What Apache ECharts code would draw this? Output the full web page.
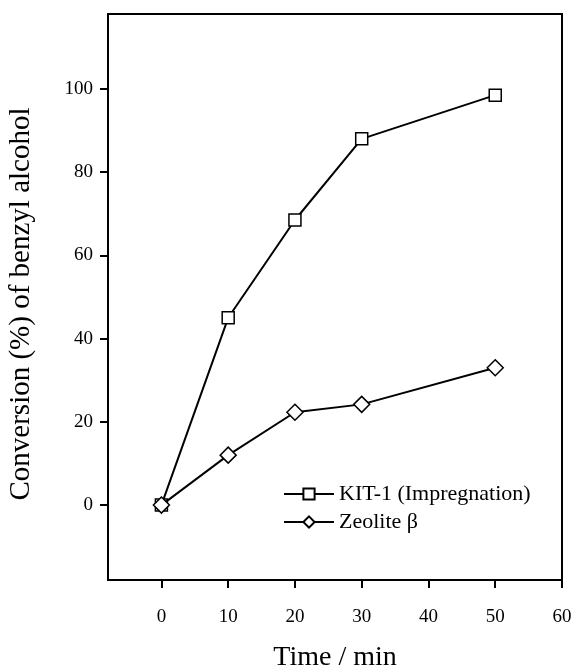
<!DOCTYPE html>
<html>
<head>
<meta charset="utf-8">
<script src="https://cdn.jsdelivr.net/npm/echarts@6/dist/echarts.min.js"></script>
<style>
  html, body { margin: 0; padding: 0; background: #fff; }
  #chart { width: 576px; height: 671px; }
</style>
</head>
<body>
<div id="chart"></div>
<script>
// data
var timeMin = [0, 10, 20, 30, 50];
var kit1 = [0, 45, 68.5, 88, 98.5];
var zeolite = [0, 12, 22.3, 24.2, 33];
var xTicks = [0, 10, 20, 30, 40, 50, 60];
var yTicks = [0, 20, 40, 60, 80, 100];

function pairs(xs, ys) {
    var out = [];
    for (var i = 0; i < xs.length; i++) out.push([xs[i], ys[i]]);
    return out;
}

var font = "'Liberation Serif', 'DejaVu Serif', serif";
var c = echarts.init(document.getElementById("chart"));

var m = {
    animation: false,
    textStyle: { fontFamily: font, color: "#000" },
    grid: {
        left: 108, top: 14, right: 14, bottom: 91,
        outerBoundsMode: "none",
        show: true, borderColor: "#000", borderWidth: 2, backgroundColor: "#fff"
    },
    legend: {
        orient: "vertical",
        left: 278, top: 478,
        itemWidth: 50, itemHeight: 14, itemGap: 6,
        textStyle: { fontFamily: font, fontSize: 22, color: "#000" },
        data: ["KIT-1 (Impregnation)", "Zeolite β"]
    },
    xAxis: {
        type: "value",
        min: -8, max: 60,
        name: "Time / min",
        nameLocation: "middle",
        nameGap: 64,
        nameTextStyle: { fontFamily: font, fontSize: 28, color: "#000" },
        axisLine: { onZero: false, lineStyle: { color: "#000", width: 2 } },
        axisTick: { customValues: xTicks, length: 8, lineStyle: { color: "#000", width: 2 } },
        axisLabel: { customValues: xTicks, margin: 28, fontSize: 19, color: "#000", fontFamily: font },
        splitLine: { show: false }
    },
    yAxis: {
        type: "value",
        min: -18, max: 118,
        name: "Conversion (%) of benzyl alcohol",
        nameLocation: "middle",
        nameGap: 72,
        nameTextStyle: { fontFamily: font, fontSize: 29, color: "#000", padding: [0, 14, 0, 0] },
        axisLine: { onZero: false, lineStyle: { color: "#000", width: 2 } },
        axisTick: { customValues: yTicks, length: 8, lineStyle: { color: "#000", width: 2 } },
        axisLabel: { customValues: yTicks, margin: 15, fontSize: 19, color: "#000", fontFamily: font },
        splitLine: { show: false }
    },
    series: [
        {
            name: "KIT-1 (Impregnation)",
            type: "line",
            data: pairs(timeMin, kit1),
            symbol: "rect",
            symbolSize: 12,
            lineStyle: { color: "#000", width: 2 },
            itemStyle: { color: "#fff", borderColor: "#000", borderWidth: 1.5 },
            z: 3
        },
        {
            name: "Zeolite β",
            type: "line",
            data: pairs(timeMin, zeolite),
            symbol: "diamond",
            symbolSize: 16,
            lineStyle: { color: "#000", width: 2 },
            itemStyle: { color: "#fff", borderColor: "#000", borderWidth: 1.5 },
            z: 4
        }
    ]
};
c.setOption(m);
</script>
</body>
</html>
